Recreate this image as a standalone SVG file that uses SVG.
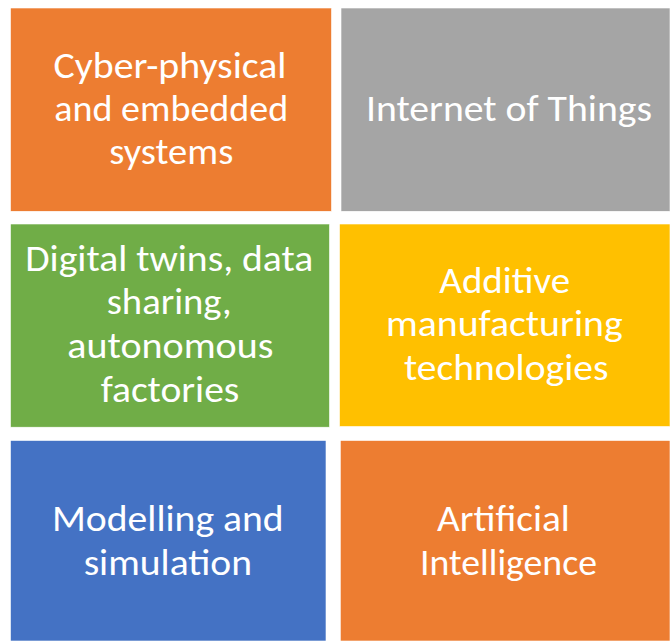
<svg xmlns="http://www.w3.org/2000/svg" width="670" height="641" viewBox="0 0 670 641">
<style>
.box{stroke:#ffffff;stroke-width:0.6}
.t{fill:#ffffff;font-family:Carlito,Calibri,Lato,"Open Sans",sans-serif;font-size:37.5px;text-anchor:middle}
</style>
<rect width="670" height="641" fill="#ffffff"/>
<g id="node-cyber">
<rect class="box" x="10.5" y="8" width="321" height="203.3" fill="#ED7D31"/>
<text class="t" x="170" y="77.5" textLength="233" lengthAdjust="spacingAndGlyphs">Cyber-physical</text>
<text class="t" x="171.3" y="121" textLength="234" lengthAdjust="spacingAndGlyphs">and embedded</text>
<text class="t" x="171.3" y="164" textLength="124" lengthAdjust="spacingAndGlyphs">systems</text>
</g>
<g id="node-iot">
<rect class="box" x="341" y="8" width="329" height="203.3" fill="#A5A5A5"/>
<text class="t" x="509" y="120.7" textLength="286" lengthAdjust="spacingAndGlyphs">Internet of Things</text>
</g>
<g id="node-twins">
<rect class="box" x="10.5" y="224" width="319" height="203.2" fill="#70AD47"/>
<text class="t" x="169.2" y="270.7" textLength="288" lengthAdjust="spacingAndGlyphs">Digital twins, data</text>
<text class="t" x="169.2" y="314.3" textLength="125" lengthAdjust="spacingAndGlyphs">sharing,</text>
<text class="t" x="170.3" y="357.8" textLength="206" lengthAdjust="spacingAndGlyphs">autonomous</text>
<text class="t" x="170" y="401.5" textLength="138.6" lengthAdjust="spacingAndGlyphs">factories</text>
</g>
<g id="node-additive">
<rect class="box" x="339.5" y="224" width="330.5" height="202.5" fill="#FFC000"/>
<text class="t" x="504.7" y="292.5" textLength="130.7" lengthAdjust="spacingAndGlyphs">Additive</text>
<text class="t" x="504.3" y="336.2" textLength="236.7" lengthAdjust="spacingAndGlyphs">manufacturing</text>
<text class="t" x="506.2" y="379.5" textLength="204.3" lengthAdjust="spacingAndGlyphs">technologies</text>
</g>
<g id="node-modelling">
<rect class="box" x="10.5" y="440.5" width="315.5" height="200.5" fill="#4472C4"/>
<text class="t" x="167.8" y="531" textLength="231.6" lengthAdjust="spacingAndGlyphs">Modelling and</text>
<text class="t" x="167.8" y="574.5" textLength="168.3" lengthAdjust="spacingAndGlyphs">simulation</text>
</g>
<g id="node-ai">
<rect class="box" x="340.3" y="440.5" width="329.7" height="200.5" fill="#ED7D31"/>
<text class="t" x="503.4" y="531" textLength="132.8" lengthAdjust="spacingAndGlyphs">Artificial</text>
<text class="t" x="508.5" y="574.5" textLength="177" lengthAdjust="spacingAndGlyphs">Intelligence</text>
</g>
<g id="connectors"></g>
</svg>
